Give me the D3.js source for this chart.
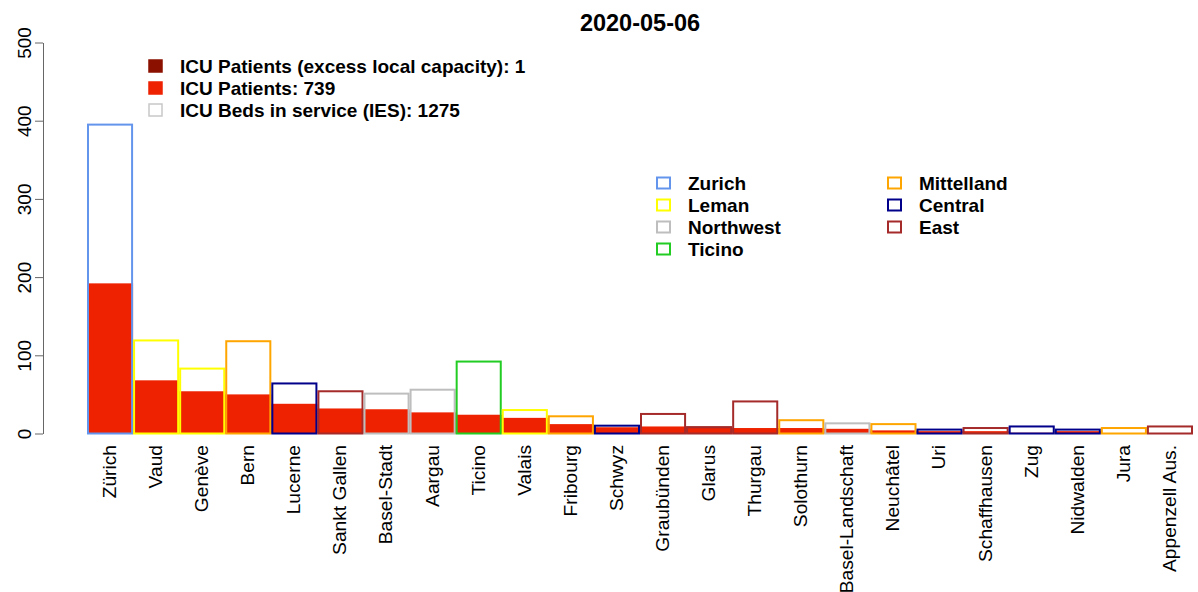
<!DOCTYPE html>
<html>
<head>
<meta charset="utf-8">
<script src="https://cdn.jsdelivr.net/npm/d3@7"></script>
<style>
  html, body { margin: 0; padding: 0; background: #fff; }
  svg { display: block; font-family: "Liberation Sans", Arial, Helvetica, sans-serif; }
</style>
</head>
<body>
<svg id="chart" width="1198" height="592"></svg>
<script>
// ICU occupancy per canton, 2020-05-06
const title = "2020-05-06";
const cantons = ["Zürich", "Vaud", "Genève", "Bern", "Lucerne", "Sankt Gallen", "Basel-Stadt",
  "Aargau", "Ticino", "Valais", "Fribourg", "Schwyz", "Graubünden", "Glarus", "Thurgau",
  "Solothurn", "Basel-Landschaft", "Neuchâtel", "Uri", "Schaffhausen", "Zug", "Nidwalden",
  "Jura", "Appenzell Aus."];
const cantonRegion = ["Zurich", "Leman", "Leman", "Mittelland", "Central", "East", "Northwest",
  "Northwest", "Ticino", "Leman", "Mittelland", "Central", "East", "East", "East",
  "Mittelland", "Northwest", "Mittelland", "Central", "East", "Central", "Central",
  "Mittelland", "East"];
const icuBeds = [395, 119, 83, 118, 64, 54, 51, 56, 92, 30, 22, 10, 25, 8, 41, 17, 13, 12, 5, 7, 9, 5, 7, 9];
const icuPatients = [192, 68, 54, 50, 38, 32, 31, 27, 24, 20, 12, 8, 9, 9, 7, 7, 6, 4, 3, 3, 1, 3, 0, 0];
const yTicks = [0, 100, 200, 300, 400, 500];

const regions = ["Zurich", "Leman", "Northwest", "Ticino", "Mittelland", "Central", "East"];
const regionColors = ["#6495ED", "#FFFF00", "#BEBEBE", "#22CC22", "#FFA500", "#00008B", "#A52A2A"];

const statusLabels = ["ICU Patients (excess local capacity): 1", "ICU Patients: 739", "ICU Beds in service (IES): 1275"];
const statusFills = ["#8B1000", "#EE2200", "#FFFFFF"];
const statusStrokes = ["#8B1000", "#EE2200", "#C8C8C8"];

const svg = d3.select("#chart");
const colorOf = d3.scaleOrdinal().domain(regions).range(regionColors);

const x = d3.scaleBand().domain(cantons).range([87, 1193]).padding(0);
const y = d3.scaleLinear().domain([0, 500]).range([433.5, 42.5]);

const rows = cantons.map((c, i) => ({
  name: c, region: cantonRegion[i], beds: icuBeds[i], patients: icuPatients[i]
}));

// patients within capacity
svg.append("g").selectAll("rect").data(rows).join("rect")
  .attr("x", d => x(d.name))
  .attr("width", x.bandwidth())
  .attr("y", d => y(Math.min(d.patients, d.beds)))
  .attr("height", d => y(0) - y(Math.min(d.patients, d.beds)))
  .attr("fill", statusFills[1]);

// patients above local capacity
svg.append("g").selectAll("rect").data(rows.filter(d => d.patients > d.beds)).join("rect")
  .attr("x", d => x(d.name))
  .attr("width", x.bandwidth())
  .attr("y", d => y(d.patients))
  .attr("height", d => y(d.beds) - y(d.patients))
  .attr("fill", statusFills[0]);

// beds in service, outlined in the region colour
svg.append("g").selectAll("rect").data(rows).join("rect")
  .attr("x", d => x(d.name) + 1)
  .attr("width", x.bandwidth() - 2)
  .attr("y", d => y(d.beds))
  .attr("height", d => y(0) - y(d.beds))
  .attr("fill", "none")
  .attr("stroke", d => colorOf(d.region))
  .attr("stroke-width", 2);

// y axis
const yAxis = svg.append("g")
  .attr("transform", "translate(43,0)")
  .call(d3.axisLeft(y).tickValues(yTicks).tickSize(8).tickSizeOuter(0).tickPadding(0));
yAxis.select(".domain").attr("stroke", "#666");
yAxis.selectAll(".tick line").attr("stroke", "#666");
yAxis.selectAll(".tick text")
  .attr("x", 0).attr("dy", 0)
  .attr("transform", "translate(-12,0) rotate(-90)")
  .attr("text-anchor", "middle")
  .attr("font-size", 19)
  .attr("font-family", "Liberation Sans, Arial, sans-serif")
  .attr("fill", "#000");

// category labels
svg.append("g").selectAll("text").data(cantons).join("text")
  .attr("transform", d => `translate(${x(d) + x.bandwidth() / 2 - 1},445) rotate(-90)`)
  .attr("dy", "0.36em")
  .attr("text-anchor", "end")
  .attr("font-size", 19.2)
  .attr("fill", "#000")
  .text(d => d);

// title
svg.append("text")
  .attr("x", 640).attr("y", 31)
  .attr("text-anchor", "middle")
  .attr("font-size", 23.5)
  .attr("font-weight", "bold")
  .text(title);

// status legend
const leg1 = svg.append("g").selectAll("g").data(statusLabels).join("g")
  .attr("transform", (d, i) => `translate(0,${66 + i * 22})`);
leg1.append("rect")
  .attr("x", 149).attr("y", -6).attr("width", 13).attr("height", 12)
  .attr("fill", (d, i) => statusFills[i])
  .attr("stroke", (d, i) => statusStrokes[i])
  .attr("stroke-width", 1.5);
leg1.append("text")
  .attr("x", 180).attr("y", 0).attr("dy", "0.36em")
  .attr("font-size", 19)
  .attr("font-weight", "bold")
  .text(d => d);

// region legend
const leg2 = svg.append("g").selectAll("g").data(regions).join("g")
  .attr("transform", (d, i) => `translate(${i < 4 ? 656 : 887},${183 + (i % 4) * 22})`);
leg2.append("rect")
  .attr("x", 1).attr("y", -5.5).attr("width", 13).attr("height", 11)
  .attr("fill", "#fff")
  .attr("stroke", d => colorOf(d))
  .attr("stroke-width", 2);
leg2.append("text")
  .attr("x", 32).attr("y", 0).attr("dy", "0.36em")
  .attr("font-size", 19)
  .attr("font-weight", "bold")
  .text(d => d);
</script>
</body>
</html>
